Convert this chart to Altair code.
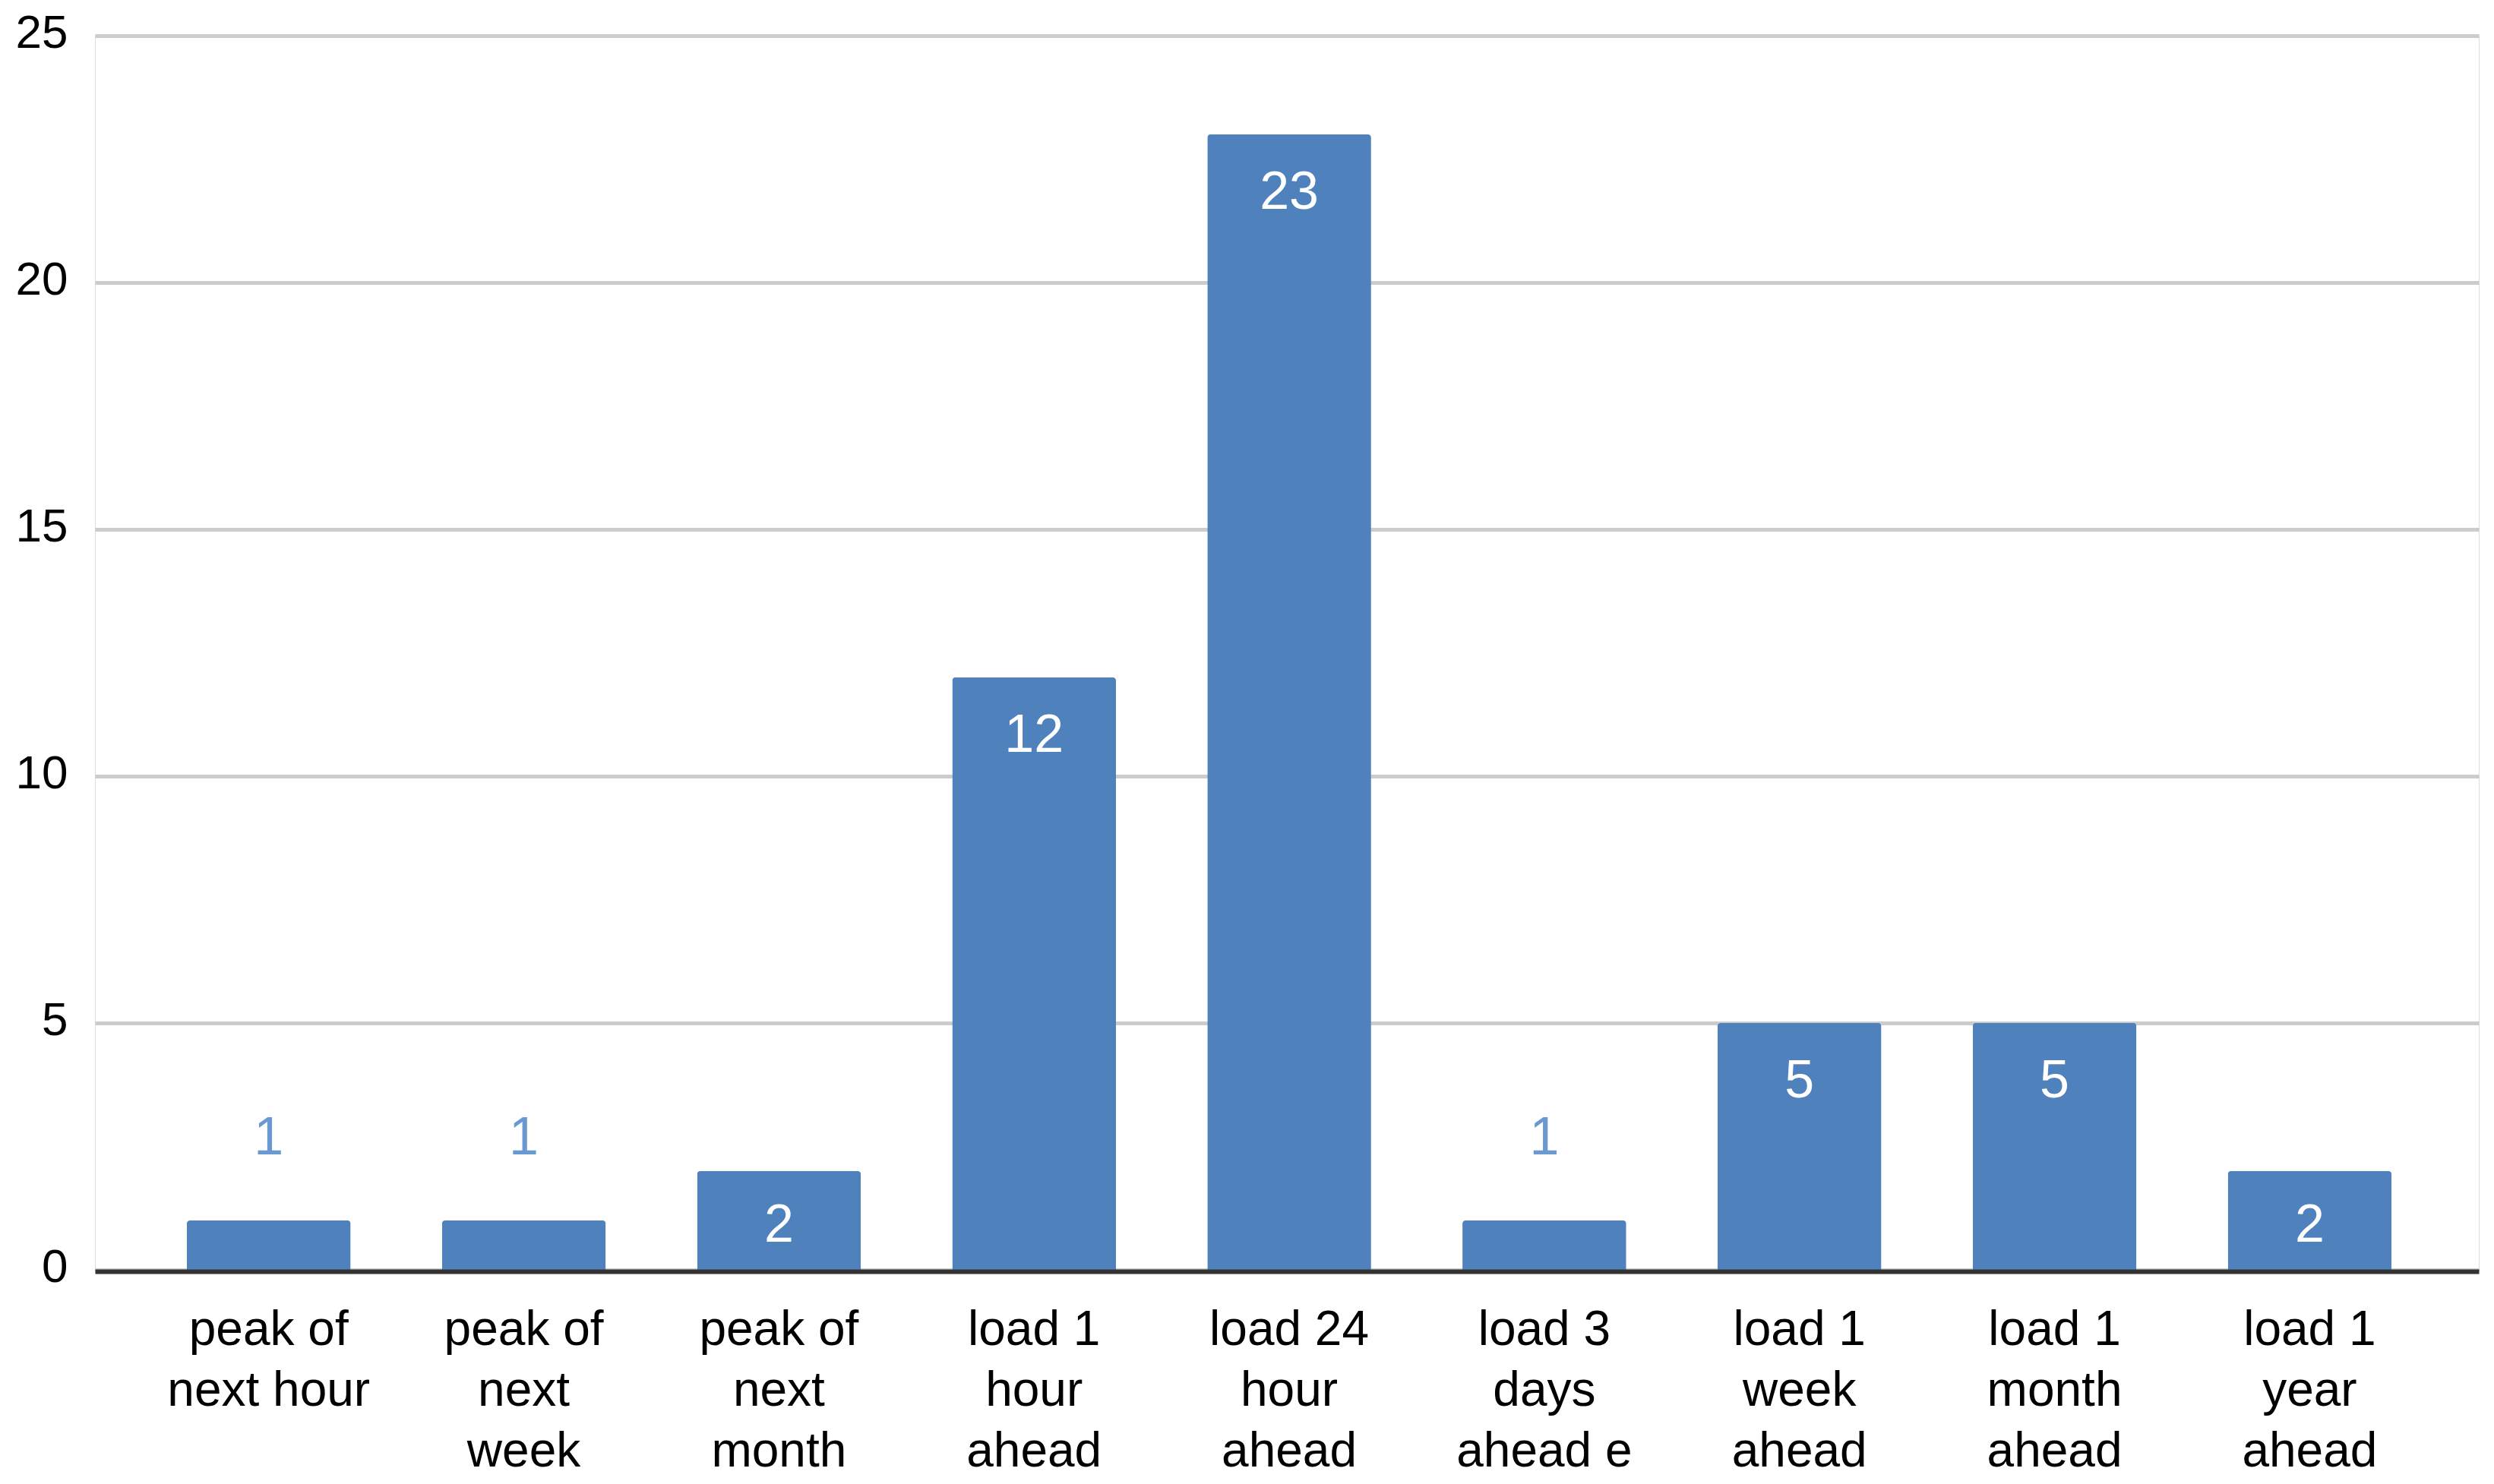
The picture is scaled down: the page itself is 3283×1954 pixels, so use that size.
import json
import altair as alt
import pandas as pd

categories = [
    "peak of next hour",
    "peak of next week",
    "peak of next month",
    "load 1 hour ahead",
    "load 24 hour ahead",
    "load 3 days ahead e",
    "load 1 week ahead",
    "load 1 month ahead",
    "load 1 year ahead",
]
label_lines = [
    ["peak of", "next hour"],
    ["peak of", "next", "week"],
    ["peak of", "next", "month"],
    ["load 1", "hour", "ahead"],
    ["load 24", "hour", "ahead"],
    ["load 3", "days", "ahead e"],
    ["load 1", "week", "ahead"],
    ["load 1", "month", "ahead"],
    ["load 1", "year", "ahead"],
]
values = [1, 1, 2, 12, 23, 1, 5, 5, 2]
y_ticks = [0, 5, 10, 15, 20, 25]

df = pd.DataFrame({"category": categories, "value": values})

BLUE = "#4f81bd"
FONT = "Liberation Sans"

label_expr = f"{json.dumps(label_lines)}[indexof({json.dumps(categories)}, datum.value)]"

x = alt.X(
    "category:N",
    sort=categories,
    scale=alt.Scale(paddingInner=0.358, paddingOuter=0.351, align=0.513),
    axis=alt.Axis(
        title=None,
        labelAngle=0,
        labelExpr=label_expr,
        labelFont=FONT,
        labelFontSize=64,
        labelColor="#000000",
        labelLineHeight=80,
        labelBaseline="alphabetic",
        labelPadding=96,
        labelLimit=0,
        ticks=False,
        offset=2,
        domainColor="#333333",
        domainWidth=6,
        grid=False,
        zindex=2,
    ),
)
y = alt.Y(
    "value:Q",
    scale=alt.Scale(domain=[0, 25], nice=False),
    axis=alt.Axis(
        title=None,
        values=y_ticks,
        labelFont=FONT,
        labelFontSize=62,
        labelColor="#000000",
        labelBaseline="alphabetic",
        labelOffset=15,
        labelPadding=36,
        ticks=False,
        domain=False,
        gridColor="#cccccc",
        gridWidth=5,
    ),
)

base = alt.Chart(df)

bars = base.mark_bar(
    color=BLUE,
    cornerRadiusTopLeft=4,
    cornerRadiusTopRight=4,
).encode(x=x, y=y)

text_common = dict(font=FONT, fontSize=70, baseline="alphabetic", align="center")

lab_big = base.transform_filter("datum.value >= 5").mark_text(
    color="#ffffff", dy=98, **text_common
).encode(x=x, y=y, text="value:Q")

lab_two = base.transform_filter("datum.value == 2").mark_text(
    color="#ffffff", dy=93, **text_common
).encode(x=x, y=y, text="value:Q")

lab_one = base.transform_filter("datum.value < 2").mark_text(
    color="#6a98d0", dy=-87, **text_common
).encode(x=x, y=y, text="value:Q")

chart = (
    alt.layer(bars, lab_big, lab_two, lab_one)
    .properties(
        width=3138,
        height=1625,
        autosize=alt.AutoSizeParams(type="none"),
        padding={"left": 117, "top": 39, "right": 10, "bottom": 274},
    )
    .configure_view(stroke=None)
    .configure(background="#ffffff")
)

chart.save("out.html", embed_options={"renderer": "svg", "actions": False})
